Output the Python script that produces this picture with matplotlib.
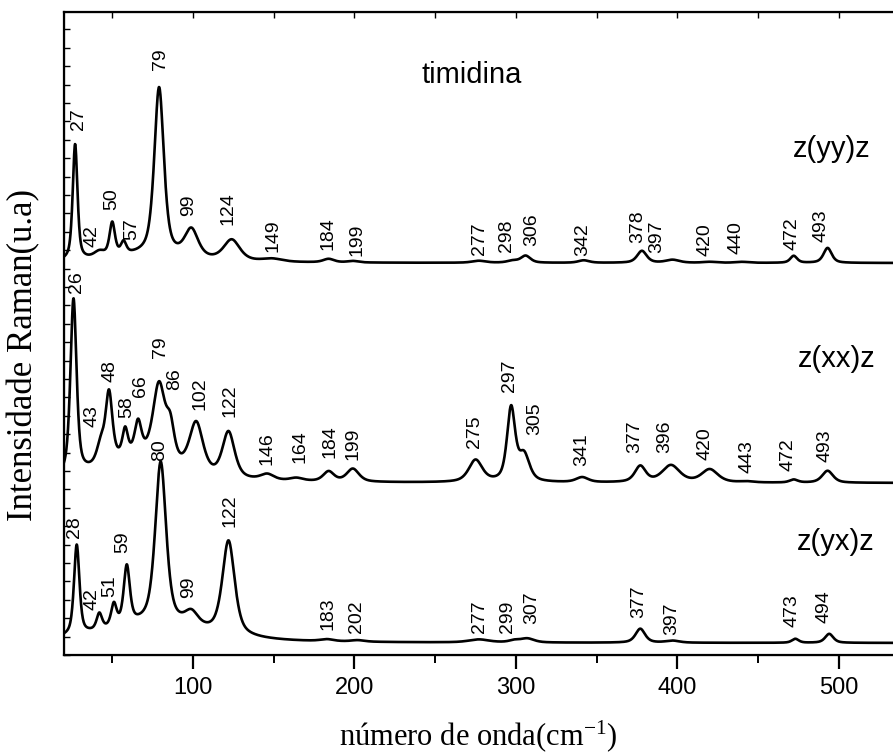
import numpy as np
import matplotlib
matplotlib.use("Agg")
import matplotlib.pyplot as plt
from matplotlib.ticker import MultipleLocator

# peak tables: position (cm-1), height, fwhm
# vertical units = pixels above the bottom axis line
yy_base = 392
yy_pos = [27, 42, 50, 57, 79, 99, 124, 149, 184, 199, 277, 298, 306, 342, 378, 397, 420, 440, 472, 493, 70]
yy_hgt = [116, 6, 33, 12, 168, 28, 21, 3, 3.5, 1.5, 2, 2, 7, 2.5, 12, 3, 1, 1, 7, 15, 7]
yy_fwhm = [3.5, 8, 4, 4, 7, 10, 12, 15, 8, 8, 10, 8, 7, 8, 7, 10, 10, 10, 5, 6, 60]

xx_base = 172
xx_pos = [26, 43, 48, 58, 66, 79, 86, 102, 122, 146, 164, 184, 199, 275, 297, 305, 341, 377, 396, 420, 443, 472, 493, 65]
xx_hgt = [176, 20, 68, 26, 32, 76, 32, 50, 46, 6, 3, 10, 13, 22, 73, 26, 5, 16, 17, 13, 1, 3, 12, 24]
xx_fwhm = [4.5, 6, 5, 4, 5, 9, 6, 10, 9, 10, 10, 8, 9, 10, 6, 8, 9, 8, 13, 12, 10, 6, 8, 55]

yx_base = 12
yx_pos = [28, 42, 51, 59, 80, 99, 122, 183, 202, 277, 299, 307, 377, 397, 473, 494, 75]
yx_hgt = [90, 16, 22, 58, 162, 14, 94, 2, 1.5, 3, 2, 4, 14, 2, 4, 9, 18]
yx_fwhm = [4, 4, 4, 4.5, 8, 10, 9, 10, 10, 15, 8, 10, 7, 10, 5, 6, 80]

# peak labels: text, x, y of label bottom
yy_labels = ["27", "42", "50", "57", "79", "99", "124", "149", "184", "199", "277", "298", "306",
             "342", "378", "397", "420", "440", "472", "493"]
yy_lx = [29.0, 37.3, 49.7, 62.0, 79.6, 97.1, 121.5, 149.5, 183.6, 201.4, 277.7, 294.2, 309.7,
         341.3, 375.7, 387.1, 417.0, 436.2, 470.7, 488.9]
yy_ly = [525, 408, 445, 415, 585, 439, 430, 403, 405, 399, 400, 403, 409, 399, 412, 402, 399, 401, 405, 413]

xx_labels = ["26", "43", "48", "58", "66", "79", "86", "102", "122", "146", "164", "184", "199",
             "275", "297", "305", "341", "377", "396", "420", "443", "472", "493"]
xx_lx = [28.0, 37.3, 48.6, 59.0, 67.2, 79.6, 88.9, 104.3, 122.9, 145.6, 166.3, 184.8, 199.1,
         274.6, 295.9, 311.8, 340.7, 373.7, 392.3, 417.0, 442.8, 468.4, 491.3]
xx_ly = [362, 228, 273, 237, 258, 297, 265, 245, 238, 190, 192, 197, 195,
         207, 263, 220, 189, 202, 202, 195, 182, 184, 193]

yx_labels = ["28", "42", "51", "59", "80", "99", "122", "183", "202", "277", "299", "307",
             "377", "397", "473", "494"]
yx_lx = [26.9, 37.3, 48.2, 56.8, 79.6, 97.1, 122.9, 183.6, 201.4, 277.7, 295.0, 309.7,
         376.3, 396.4, 470.7, 490.9]
yx_ly = [117, 45, 58, 102, 194, 57, 128, 25, 22, 22, 22, 31, 37, 20, 28, 32]


def spectrum(x, base, pos, hgt, fwhm, eta=0.6):
    y = np.full_like(x, float(base))
    for p, h, w in zip(pos, hgt, fwhm):
        d = (x - p) / (w / 2.0)
        lor = 1.0 / (1.0 + d ** 2)
        gau = np.exp(-np.log(2) * d ** 2)
        y += h * (eta * lor + (1 - eta) * gau)
    return y


plt.rcParams['font.family'] = ['Liberation Sans', 'DejaVu Sans']
plt.rcParams['mathtext.fontset'] = 'custom'
plt.rcParams['mathtext.rm'] = 'Liberation Serif'
plt.rcParams['mathtext.it'] = 'Liberation Serif'

fig = plt.figure(figsize=(8.93, 7.55), dpi=100)
ax = fig.add_axes([63.8 / 893, 100 / 755, (893 - 63.8) / 893, 643 / 755])

x = np.linspace(20, 540, 3000)
for base, pos, hgt, fw in [(yy_base, yy_pos, yy_hgt, yy_fwhm),
                           (xx_base, xx_pos, xx_hgt, xx_fwhm),
                           (yx_base, yx_pos, yx_hgt, yx_fwhm)]:
    ax.plot(x, spectrum(x, base, pos, hgt, fw), color='black', lw=1.9)

for labels, lx, ly in [(yy_labels, yy_lx, yy_ly), (xx_labels, xx_lx, xx_ly), (yx_labels, yx_lx, yx_ly)]:
    for t, a, b in zip(labels, lx, ly):
        ax.text(a, b, t, rotation=90, ha='center', va='bottom', fontsize=14)

ax.text(241.8, 572, "timidina", fontsize=21)
ax.text(471.4, 498, "z(yy)z", fontsize=21)
ax.text(474.5, 288, "z(xx)z", fontsize=21)
ax.text(473.9, 105, "z(yx)z", fontsize=21)

ax.set_xlim(20, 533.5)
ax.set_ylim(0, 643)
ax.spines['right'].set_visible(False)
for s in ['left', 'bottom', 'top']:
    ax.spines[s].set_linewidth(1.6)

ax.xaxis.set_major_locator(MultipleLocator(100))
ax.xaxis.set_minor_locator(MultipleLocator(50))
ax.tick_params(axis='x', which='major', direction='out', length=10, width=1.6, labelsize=17, pad=6)
ax.tick_params(axis='x', which='minor', direction='out', length=6, width=1.4)
ax.yaxis.set_major_locator(MultipleLocator(18.4))
ax.tick_params(axis='y', which='major', direction='in', length=4, width=1.0, labelleft=False)

# short inward ticks along the top
top = ax.twiny()
top.set_xlim(ax.get_xlim())
top.spines['right'].set_visible(False)
top.xaxis.set_major_locator(MultipleLocator(50))
top.tick_params(axis='x', direction='in', length=4, width=1.0, labeltop=False)

ax.set_xlabel(r"número de onda(cm$^{\mathregular{-1}}$)", family='Liberation Serif', fontsize=22, labelpad=14)
ax.set_ylabel("Intensidade Raman(u.a)", family='Liberation Serif', fontsize=25)
ax.yaxis.set_label_coords(-0.028, 0.467)

fig.savefig("out.png", dpi=100)
